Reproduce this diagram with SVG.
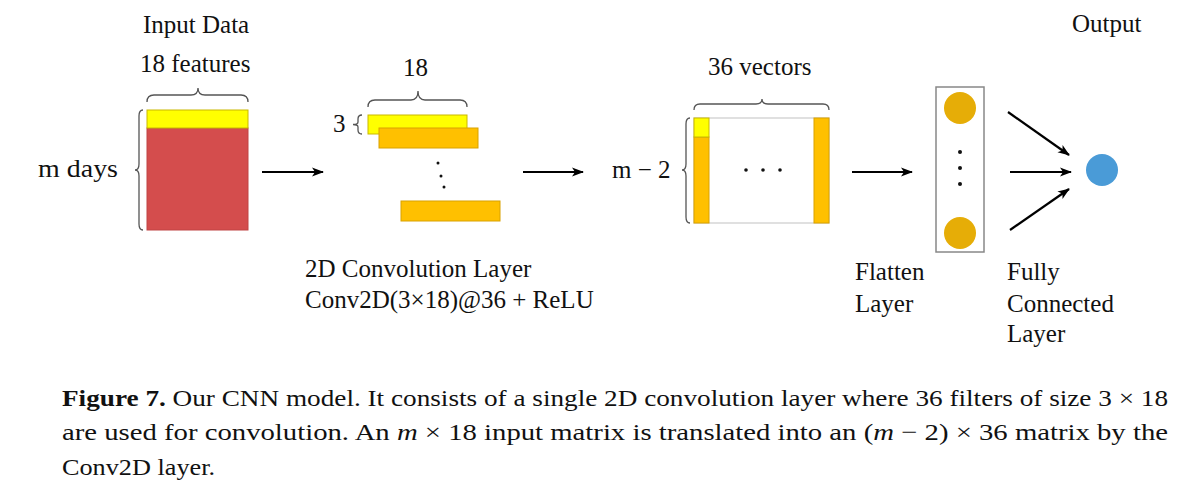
<svg xmlns="http://www.w3.org/2000/svg" width="1200" height="490" viewBox="0 0 1200 490">
<defs>
<marker id="ah" markerWidth="12" markerHeight="10" refX="11" refY="5" orient="auto" markerUnits="userSpaceOnUse">
<path d="M0,0.5 L12,5 L0,9.5 L3,5 Z" fill="#000"/>
</marker>
<style>
text{font-family:"Liberation Serif","Times New Roman",serif;fill:#111;font-size:25px}
.cap{font-size:24px}
.brace{fill:none;stroke:#555;stroke-width:1.3}
.conn{stroke:#000;stroke-width:2.2;fill:none;marker-end:url(#ah)}
.yel{fill:#FFFF00;stroke:#C9B800;stroke-width:1}
.org{fill:#FFC000;stroke:#D9A200;stroke-width:1}
.dot{fill:#111}
.gold{fill:#E6AD07}
</style>
</defs>
<rect width="1200" height="490" fill="#fff"/>

<g id="input">
<text x="143" y="33">Input Data</text>
<text x="140" y="72">18 features</text>
<text x="38" y="177" font-size="27" textLength="80" lengthAdjust="spacingAndGlyphs">m days</text>
<path class="brace" d="M147,102 Q147,95 154,95 L191,95 Q198,95 198,88 Q198,95 205,95 L241,95 Q248,95 248,102"/>
<path class="brace" d="M143,110 Q139,110 139,116 L139,164 Q139,170 135,170 Q139,170 139,176 L139,224 Q139,230 143,230"/>
<rect x="147" y="128" width="101" height="102" fill="#D44D4D" stroke="#C04444" stroke-width="1"/>
<rect class="yel" x="147" y="110" width="101" height="18"/>
</g>

<g id="conv">
<text x="403" y="76">18</text>
<text x="333" y="132" font-size="24">3</text>
<path class="brace" d="M368,107 Q368,100 375,100 L411,100 Q418,100 418,91 Q418,100 425,100 L460,100 Q467,100 467,107"/>
<path class="brace" d="M362,115 Q358,115 358,119 L358,122 Q358,124.5 353,124.5 Q358,124.5 358,127 L358,130 Q358,134 362,134"/>
<rect class="yel" x="368" y="115" width="99" height="19"/>
<rect class="org" x="379" y="128" width="99" height="20"/>
<circle class="dot" cx="438" cy="163" r="1.5"/>
<circle class="dot" cx="441" cy="176" r="1.5"/>
<circle class="dot" cx="444" cy="187" r="1.5"/>
<rect class="org" x="401" y="201" width="99" height="20"/>
<text x="305" y="277">2D Convolution Layer</text>
<text x="305" y="308">Conv2D(3×18)@36 + ReLU</text>
</g>

<g id="featuremap">
<text x="708" y="75">36 vectors</text>
<text x="612" y="178">m − 2</text>
<path class="brace" d="M694,110 Q694,104 700,104 L756,104 Q762,104 762,99 Q762,104 768,104 L823,104 Q829,104 829,110"/>
<path class="brace" d="M690,118 Q686,118 686,124 L686,164 Q686,170 682,170 Q686,170 686,176 L686,217 Q686,223 690,223"/>
<rect x="694" y="118" width="135" height="105" fill="#fff" stroke="#ccc" stroke-width="1.2"/>
<rect class="org" x="694" y="137" width="15" height="86"/>
<rect class="yel" x="694" y="118" width="15" height="19"/>
<rect class="org" x="814" y="118" width="15" height="105"/>
<circle class="dot" cx="746" cy="170" r="1.8"/>
<circle class="dot" cx="763" cy="170" r="1.8"/>
<circle class="dot" cx="780" cy="170" r="1.8"/>
</g>

<g id="flatten">
<rect x="936" y="87" width="48" height="165" fill="#fff" stroke="#888" stroke-width="1.5"/>
<circle class="gold" cx="960" cy="108" r="16"/>
<circle class="gold" cx="960" cy="233" r="16"/>
<circle class="dot" cx="960" cy="152" r="2"/>
<circle class="dot" cx="960" cy="168" r="2"/>
<circle class="dot" cx="960" cy="184" r="2"/>
<text x="855" y="280">Flatten</text>
<text x="855" y="312">Layer</text>
</g>

<g id="output">
<text x="1072" y="32">Output</text>
<circle cx="1102" cy="170" r="16" fill="#4A9BD7"/>
<text x="1007" y="280">Fully</text>
<text x="1007" y="312">Connected</text>
<text x="1007" y="342">Layer</text>
</g>

<g id="connectors">
<line class="conn" x1="262" y1="172" x2="323" y2="172"/>
<line class="conn" x1="523" y1="172" x2="583" y2="172"/>
<line class="conn" x1="852" y1="172" x2="912" y2="172"/>
<line class="conn" x1="1008" y1="112" x2="1069" y2="155"/>
<line class="conn" x1="1010" y1="172" x2="1071" y2="172"/>
<line class="conn" x1="1010" y1="230" x2="1069" y2="189"/>
</g>

<g id="caption">
<text class="cap" x="62" y="406" textLength="1106" lengthAdjust="spacingAndGlyphs"><tspan font-weight="bold">Figure 7.</tspan> Our CNN model. It consists of a single 2D convolution layer where 36 filters of size 3 × 18</text>
<text class="cap" x="62" y="440" textLength="1106" lengthAdjust="spacingAndGlyphs">are used for convolution. An <tspan font-style="italic">m</tspan> × 18 input matrix is translated into an (<tspan font-style="italic">m</tspan> − 2) × 36 matrix by the</text>
<text class="cap" x="62" y="475" textLength="153" lengthAdjust="spacingAndGlyphs">Conv2D layer.</text>
</g>
</svg>
